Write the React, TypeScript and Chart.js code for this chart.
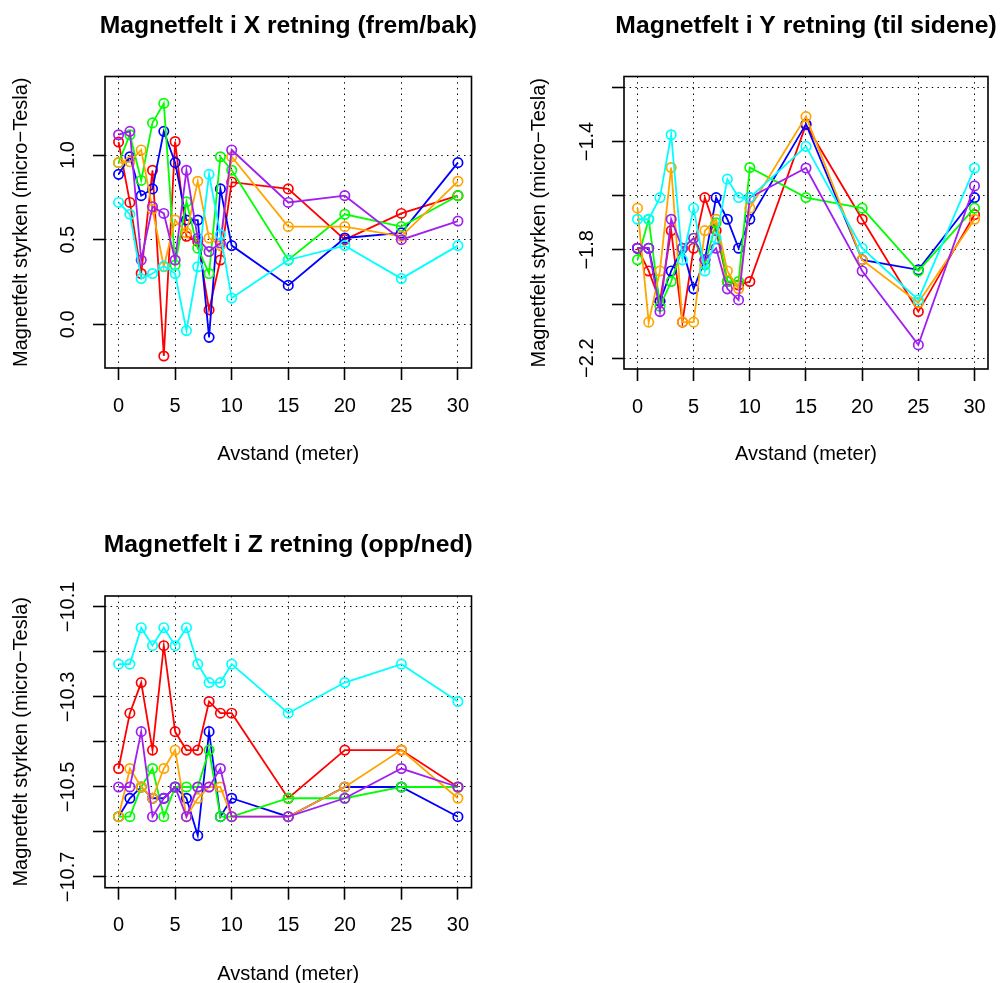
import React, { useEffect, useRef } from 'react';
import { Chart, registerables } from 'chart.js';

Chart.register(...registerables);

const FONT = '"Liberation Sans", Arial, Helvetica, sans-serif';

// Distance (meter) – x values shared by all series
const distances = [0, 1, 2, 3, 4, 5, 6, 7, 8, 9, 10, 15, 20, 25, 30];
const xTicks = [0, 5, 10, 15, 20, 25, 30];

const xTitle = 'Avstand (meter)';
const yTitle = 'Magnetfelt styrken (micro\u2212Tesla)';

// Panel X (frem/bak)
const xRed = [1.077, 0.72, 0.30, 0.91, -0.187, 1.08, 0.52, 0.49, 0.085, 0.38, 0.84, 0.80, 0.50, 0.655, 0.76];
const xBlue = [0.886, 0.99, 0.76, 0.80, 1.14, 0.955, 0.616, 0.616, -0.077, 0.80, 0.465, 0.23, 0.51, 0.54, 0.955];
const xGreen = [0.955, 1.12, 0.85, 1.19, 1.305, 0.35, 0.724, 0.45, 0.30, 0.99, 0.91, 0.38, 0.65, 0.577, 0.76];
const xOrange = [0.955, 0.96, 1.03, 0.68, 0.34, 0.616, 0.54, 0.845, 0.51, 0.465, 0.99, 0.577, 0.577, 0.52, 0.845];
const xPurple = [1.12, 1.14, 0.38, 0.695, 0.655, 0.38, 0.91, 0.508, 0.43, 0.48, 1.03, 0.72, 0.76, 0.50, 0.61];
const xCyan = [0.72, 0.65, 0.27, 0.30, 0.344, 0.30, -0.037, 0.34, 0.886, 0.53, 0.155, 0.38, 0.465, 0.27, 0.465];

// Panel Y (til sidene)
const yRed = [-1.794, -1.878, -1.99, -1.729, -2.067, -1.794, -1.607, -1.729, -1.917, -1.93, -1.917, -1.338, -1.687, -2.028, -1.67];
const yBlue = [-1.794, -1.794, -1.99, -1.878, -1.794, -1.944, -1.837, -1.607, -1.687, -1.794, -1.687, -1.336, -1.837, -1.874, -1.607];
const yGreen = [-1.837, -1.687, -2.009, -1.917, -1.794, -1.757, -1.855, -1.70, -1.917, -1.917, -1.496, -1.607, -1.646, -1.878, -1.646];
const yOrange = [-1.646, -2.067, -1.878, -1.496, -2.067, -2.067, -1.729, -1.687, -1.878, -1.944, -1.646, -1.308, -1.837, -1.995, -1.687];
const yPurple = [-1.794, -1.794, -2.028, -1.687, -1.794, -1.757, -1.837, -1.794, -1.944, -1.985, -1.607, -1.498, -1.878, -2.151, -1.564];
const yCyan = [-1.687, -1.687, -1.607, -1.375, -1.837, -1.646, -1.878, -1.757, -1.539, -1.607, -1.607, -1.418, -1.794, -1.985, -1.498];

// Panel Z (opp/ned)
const zRed = [-10.459, -10.336, -10.268, -10.418, -10.186, -10.377, -10.418, -10.418, -10.31, -10.336, -10.336, -10.525, -10.418, -10.418, -10.5];
const zBlue = [-10.566, -10.525, -10.5, -10.525, -10.525, -10.5, -10.525, -10.608, -10.377, -10.566, -10.525, -10.566, -10.5, -10.5, -10.566];
const zGreen = [-10.566, -10.566, -10.5, -10.459, -10.566, -10.5, -10.5, -10.5, -10.418, -10.566, -10.566, -10.525, -10.525, -10.5, -10.5];
const zOrange = [-10.566, -10.459, -10.5, -10.525, -10.459, -10.418, -10.566, -10.525, -10.5, -10.5, -10.566, -10.566, -10.5, -10.418, -10.525];
const zPurple = [-10.5, -10.5, -10.377, -10.566, -10.525, -10.5, -10.566, -10.5, -10.5, -10.459, -10.566, -10.566, -10.525, -10.459, -10.5];
const zCyan = [-10.227, -10.227, -10.146, -10.186, -10.146, -10.186, -10.146, -10.227, -10.268, -10.268, -10.227, -10.336, -10.268, -10.227, -10.31];

const colors = ['#FF0000', '#0000FF', '#00FF00', '#FFA500', '#A020F0', '#00FFFF'];

const yTicksX = [0, 0.5, 1.0];
const yLabelsX = [0, 0.5, 1.0];
const yTicksY = [-2.2, -2.0, -1.8, -1.6, -1.4, -1.2];
const yLabelsY = [-2.2, -1.8, -1.4];
const yTicksZ = [-10.7, -10.6, -10.5, -10.4, -10.3, -10.2, -10.1];
const yLabelsZ = [-10.7, -10.5, -10.3, -10.1];

type PanelCfg = {
  title: string;
  series: number[][];
  x: number; y: number; w: number; h: number;
  area: { left: number; top: number; right: number; bottom: number };
  yMin: number; yMax: number;
  yTicks: number[]; yLabels: number[];
  titleY: number;
};

const panels: PanelCfg[] = [
  {
    title: 'Magnetfelt i X retning (frem/bak)',
    series: [xRed, xBlue, xGreen, xOrange, xPurple, xCyan],
    x: 0, y: 0, w: 518, h: 491,
    area: { left: 105, top: 76.5, right: 471.5, bottom: 368 },
    yMin: -0.258, yMax: 1.464,
    yTicks: yTicksX, yLabels: yLabelsX,
    titleY: 25.7,
  },
  {
    title: 'Magnetfelt i Y retning (til sidene)',
    series: [yRed, yBlue, yGreen, yOrange, yPurple, yCyan],
    x: 518, y: 0, w: 482, h: 491,
    area: { left: 106, top: 76.5, right: 472, bottom: 369 },
    yMin: -2.24, yMax: -1.16,
    yTicks: yTicksY, yLabels: yLabelsY,
    titleY: 25.7,
  },
  {
    title: 'Magnetfelt i Z retning (opp/ned)',
    series: [zRed, zBlue, zGreen, zOrange, zPurple, zCyan],
    x: 0, y: 520, w: 518, h: 491,
    area: { left: 105, top: 76, right: 471.5, bottom: 367.7 },
    yMin: -10.7238, yMax: -10.0756,
    yTicks: yTicksZ, yLabels: yLabelsZ,
    titleY: 25,
  },
];

const fmt = (v: number) => (v < -1e-9 ? '\u2212' : '') + Math.abs(v).toFixed(1);

function measure(text: string, font: string) {
  const c = document.createElement('canvas').getContext('2d')!;
  c.font = font;
  return c.measureText(text).width;
}

const panelTitlePlugin = {
  id: 'panelTitle',
  afterDraw(chart: any, _args: any, opts: any) {
    const { ctx, chartArea } = chart;
    ctx.save();
    ctx.font = `bold 24.7px ${FONT}`;
    ctx.fillStyle = '#000';
    ctx.textAlign = 'center';
    ctx.textBaseline = 'middle';
    ctx.fillText(opts.text, (chartArea.left + chartArea.right) / 2, opts.y);
    ctx.restore();
  },
};

const boxPlugin = {
  id: 'plotBox',
  afterDatasetsDraw(chart: any) {
    const { ctx, chartArea: a } = chart;
    ctx.save();
    ctx.strokeStyle = '#000';
    ctx.lineWidth = 1.6;
    ctx.setLineDash([]);
    ctx.strokeRect(a.left, a.top, a.right - a.left, a.bottom - a.top);
    ctx.restore();
  },
};

function Panel({ cfg }: { cfg: PanelCfg }) {
  const ref = useRef<HTMLCanvasElement>(null);
  useEffect(() => {
    const canvas = ref.current!;
    const a = cfg.area;
    const tickFont = { family: FONT, size: 20 };
    const labelStrings = cfg.yLabels.map(fmt);
    const widest = Math.max(...labelStrings.map((l) => measure(l, `20px ${FONT}`)));
    const tickLen = 12;
    const labelCenter = a.left - 36.5;
    const yPad = a.left - tickLen - labelCenter - widest / 2;
    const isLabeled = (v: number) => cfg.yLabels.some((l) => Math.abs(l - v) < 1e-6);

    const gridCommon = {
      display: true,
      drawOnChartArea: true,
      drawTicks: true,
      tickLength: tickLen,
      color: '#000',
      lineWidth: 1,
      tickColor: '#000',
      tickWidth: 1.6,
      tickBorderDash: [],
    };

    const chart = new Chart(canvas, {
      type: 'line',
      data: {
        datasets: cfg.series.map((vals, i) => ({
          label: 'serie ' + (i + 1),
          data: distances.map((d, j) => ({ x: d, y: vals[j] })),
          borderColor: colors[i],
          borderWidth: 1.8,
          pointRadius: 4.7,
          pointHoverRadius: 4.7,
          pointBorderColor: colors[i],
          pointBackgroundColor: 'rgba(0,0,0,0)',
          pointBorderWidth: 1.7,
          fill: false,
          tension: 0,
          order: cfg.series.length - i,
        })),
      },
      options: {
        responsive: false,
        maintainAspectRatio: false,
        animation: false,
        devicePixelRatio: 1,
        events: [],
        layout: { padding: { left: 0, top: a.top, right: cfg.w - a.right, bottom: 0 } },
        plugins: {
          legend: { display: false },
          tooltip: { enabled: false },
          title: { display: false },
          panelTitle: { text: cfg.title, y: cfg.titleY },
        } as any,
        scales: {
          x: {
            type: 'linear',
            position: 'bottom',
            min: -1.2,
            max: 31.2,
            bounds: 'data',
            afterBuildTicks: (s: any) => { s.ticks = xTicks.map((v) => ({ value: v })); },
            afterFit: (s: any) => { s.height = cfg.h - a.bottom; },
            ticks: {
              autoSkip: false,
              padding: 14,
              color: '#000',
              font: tickFont,
              minRotation: 0,
              maxRotation: 0,
              callback: (v: any) => String(v),
            },
            grid: gridCommon,
            border: { display: false, dash: [1.4, 4.3] },
            title: {
              display: true,
              text: xTitle,
              color: '#000',
              font: { family: FONT, size: 20 },
              padding: { top: 0, bottom: 25 },
            },
          },
          y: {
            type: 'linear',
            position: 'left',
            min: cfg.yMin,
            max: cfg.yMax,
            bounds: 'data',
            afterBuildTicks: (s: any) => { s.ticks = cfg.yTicks.map((v) => ({ value: v })); },
            afterFit: (s: any) => { s.width = a.left; },
            ticks: {
              autoSkip: false,
              padding: yPad,
              crossAlign: 'center',
              minRotation: 90,
              maxRotation: 90,
              color: '#000',
              font: tickFont,
              callback: (v: any) => (isLabeled(Number(v)) ? fmt(Number(v)) : ''),
            },
            grid: gridCommon,
            border: { display: false, dash: [1.4, 4.3] },
            title: {
              display: true,
              text: yTitle,
              color: '#000',
              font: { family: FONT, size: 20 },
              padding: { top: 9, bottom: 0 },
            },
          },
        } as any,
      },
      plugins: [panelTitlePlugin, boxPlugin],
    } as any);
    return () => chart.destroy();
  }, [cfg]);

  return (
    <canvas
      ref={ref}
      width={cfg.w}
      height={cfg.h}
      style={{ position: 'absolute', left: cfg.x, top: cfg.y, width: cfg.w, height: cfg.h }}
    />
  );
}

export default function App() {
  return (
    <div
      style={{
        position: 'absolute',
        left: 0,
        top: 0,
        width: 1000,
        height: 983,
        overflow: 'hidden',
        background: '#fff',
      }}
    >
      {panels.map((p, i) => (
        <Panel key={i} cfg={p} />
      ))}
    </div>
  );
}
